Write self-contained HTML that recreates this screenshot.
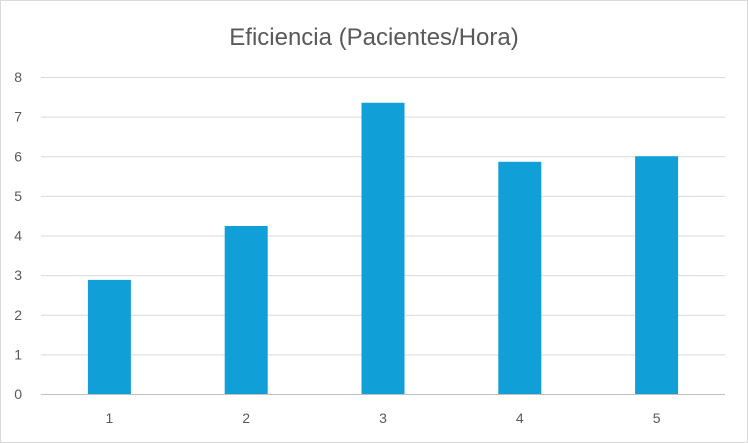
<!DOCTYPE html>
<html><head><meta charset="utf-8"><style>
body{margin:0;background:#fff;}
svg{display:block;font-family:"Liberation Sans",sans-serif;}
</style></head><body>
<svg id="chart" width="748" height="443">
<rect x="0.5" y="0.5" width="747" height="442" fill="#fff" stroke="#d9d9d9"/>
<text x="374" y="45" text-anchor="middle" font-size="24" fill="#595959">Eficiencia (Pacientes/Hora)</text>
<g id="grid"></g><g id="bars"></g><g id="labels"></g>
</svg>
<script>
const categories=["1","2","3","4","5"];
const values=[2.88,4.24,7.35,5.86,6.0];
const yTicks=[0,1,2,3,4,5,6,7,8];
const L=41,R=725,T=77,B=394,yMax=8;
const ns="http://www.w3.org/2000/svg";
function y(v){return B-(v/yMax)*(B-T);}
const bw=(R-L)/categories.length;
function xc(i){return L+bw*(i+0.5);}
const grid=document.getElementById('grid'),bars=document.getElementById('bars'),labels=document.getElementById('labels');
yTicks.forEach(t=>{
 const l=document.createElementNS(ns,'line');
 l.setAttribute('x1',L);l.setAttribute('x2',R);l.setAttribute('y1',y(t)+0.5);l.setAttribute('y2',y(t)+0.5);
 l.setAttribute('stroke',t===0?'#bfbfbf':'#d9d9d9');l.setAttribute('stroke-width','1');
 
 
 grid.appendChild(l);
 const tx=document.createElementNS(ns,'text');
 tx.setAttribute('x',22);tx.setAttribute('y',y(t)+5);tx.setAttribute('text-anchor','end');
 tx.setAttribute('font-size','14');tx.setAttribute('fill','#595959');tx.textContent=t;
 
 
 labels.appendChild(tx);
});
categories.forEach((c,i)=>{
 const r=document.createElementNS(ns,'rect');
 r.setAttribute('x',xc(i)-21.5);r.setAttribute('width',43);
 r.setAttribute('y',y(values[i]));r.setAttribute('height',B-y(values[i]));
 r.setAttribute('fill','#119fd8');
 
 
 bars.appendChild(r);
 const tx=document.createElementNS(ns,'text');
 tx.setAttribute('x',xc(i));tx.setAttribute('y',423);tx.setAttribute('text-anchor','middle');
 tx.setAttribute('font-size','14');tx.setAttribute('fill','#595959');tx.textContent=c;
 
 
 labels.appendChild(tx);
});
</script>
</body></html>
